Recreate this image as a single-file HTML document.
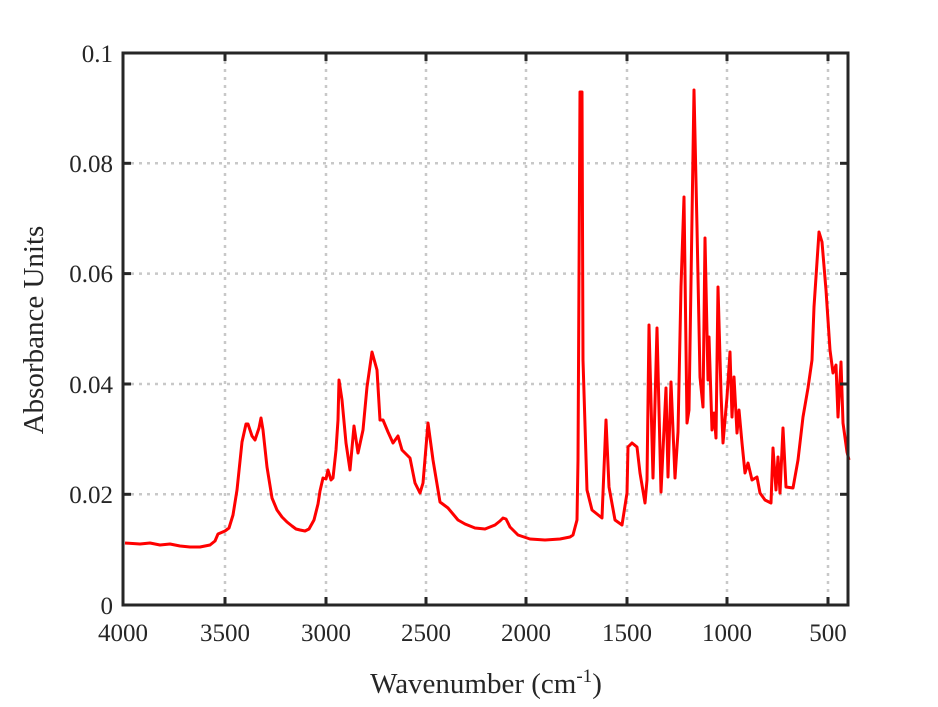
<!DOCTYPE html>
<html><head><meta charset="utf-8"><style>body{margin:0;background:#fff}</style></head><body>
<svg width="938" height="702" xmlns="http://www.w3.org/2000/svg" font-family="Liberation Serif, serif" fill="#262626">
<rect width="938" height="702" fill="#fff"/>
<g stroke="#c8c8c8" stroke-width="2.5" stroke-dasharray="3,5">
<line x1="225" y1="53" x2="225" y2="605"/><line x1="326" y1="53" x2="326" y2="605"/><line x1="426" y1="53" x2="426" y2="605"/><line x1="526" y1="53" x2="526" y2="605"/><line x1="627" y1="53" x2="627" y2="605"/><line x1="727" y1="53" x2="727" y2="605"/><line x1="828" y1="53" x2="828" y2="605"/>
<line x1="123" y1="163.3" x2="848" y2="163.3"/><line x1="123" y1="273.6" x2="848" y2="273.6"/><line x1="123" y1="384" x2="848" y2="384"/><line x1="123" y1="494.3" x2="848" y2="494.3"/>
</g>
<polyline fill="none" stroke="#ff0000" stroke-width="3" stroke-linejoin="round" points="125,543 140,544 150,543 160,545 170,544 180,546 190,547 200,547 210,545 215,541 218,534 225,531 229,528 233,515 237,490 242,442 246,424 248,424 252,436 255,440 259,428 261,418 263,430 267,467 272,498 277,510 282,517 287,522 292,526 296,529 300,530 305,531 309,529 314,520 318,504 320,491 323,478 326,479 328,470 331,480 333,478 336,450 338,420 339,380 342,400 346,443 350,470 354,426 358,453 363,430 367,387 372,352 377,370 380,420 383,420 388,432 393,443 398,436 402,450 410,458 415,483 420,493 423,483 428,423 433,460 440,502 448,508 458,520 465,524 475,528 485,529 495,525 500,521 503,518 506,519 510,527 518,535 530,539 545,540 560,539 570,537 573,535 577,520 578,460 580,92 582,92 583,360 587,490 592,510 602,518 603,493 606,420 609,487 615,520 622,525 627,493 628,447 632,443 637,447 640,473 645,503 647,480 649,325 653,478 657,328 661,492 666,388 668,477 671,382 675,478 678,432 681,287 684,197 687,423 689,410 694,90 697,227 700,377 703,407 705,238 708,380 709,337 712,430 714,413 716,438 718,287 721,393 723,443 727,397 730,352 732,417 734,377 737,433 739,410 742,443 745,473 748,463 752,480 757,477 760,493 765,500 771,503 773,448 776,490 778,457 780,493 783,428 786,487 793,488 798,460 803,417 808,388 812,360 814,307 819,232 822,242 826,290 830,350 833,373 836,365 838,417 841,362 843,423 847,452 849,460"/>
<rect x="123" y="53" width="725" height="552" fill="none" stroke="#262626" stroke-width="3"/>
<g stroke="#262626" stroke-width="3">
<line x1="225" y1="605" x2="225" y2="597"/><line x1="326" y1="605" x2="326" y2="597"/><line x1="426" y1="605" x2="426" y2="597"/><line x1="526" y1="605" x2="526" y2="597"/><line x1="627" y1="605" x2="627" y2="597"/><line x1="727" y1="605" x2="727" y2="597"/><line x1="828" y1="605" x2="828" y2="597"/>
<line x1="225" y1="53" x2="225" y2="61"/><line x1="326" y1="53" x2="326" y2="61"/><line x1="426" y1="53" x2="426" y2="61"/><line x1="526" y1="53" x2="526" y2="61"/><line x1="627" y1="53" x2="627" y2="61"/><line x1="727" y1="53" x2="727" y2="61"/><line x1="828" y1="53" x2="828" y2="61"/>
<line x1="123" y1="163.3" x2="131" y2="163.3"/><line x1="123" y1="273.6" x2="131" y2="273.6"/><line x1="123" y1="384" x2="131" y2="384"/><line x1="123" y1="494.3" x2="131" y2="494.3"/>
<line x1="848" y1="163.3" x2="840" y2="163.3"/><line x1="848" y1="273.6" x2="840" y2="273.6"/><line x1="848" y1="384" x2="840" y2="384"/><line x1="848" y1="494.3" x2="840" y2="494.3"/>
</g>
<g font-size="25" text-anchor="end">
<text x="113" y="62">0.1</text><text x="113" y="172">0.08</text><text x="113" y="282">0.06</text><text x="113" y="393">0.04</text><text x="113" y="503">0.02</text><text x="113" y="614">0</text>
</g>
<g font-size="25" text-anchor="middle">
<text x="123" y="641">4000</text><text x="225" y="641">3500</text><text x="326" y="641">3000</text><text x="426" y="641">2500</text><text x="526" y="641">2000</text><text x="627" y="641">1500</text><text x="727" y="641">1000</text><text x="828" y="641">500</text>
</g>
<text x="486" y="693" font-size="29" text-anchor="middle">Wavenumber (cm<tspan font-size="19" dy="-11">-1</tspan><tspan dy="11">)</tspan></text>
<text transform="translate(43,330) rotate(-90)" font-size="29" text-anchor="middle">Absorbance Units</text>
</svg>
</body></html>
